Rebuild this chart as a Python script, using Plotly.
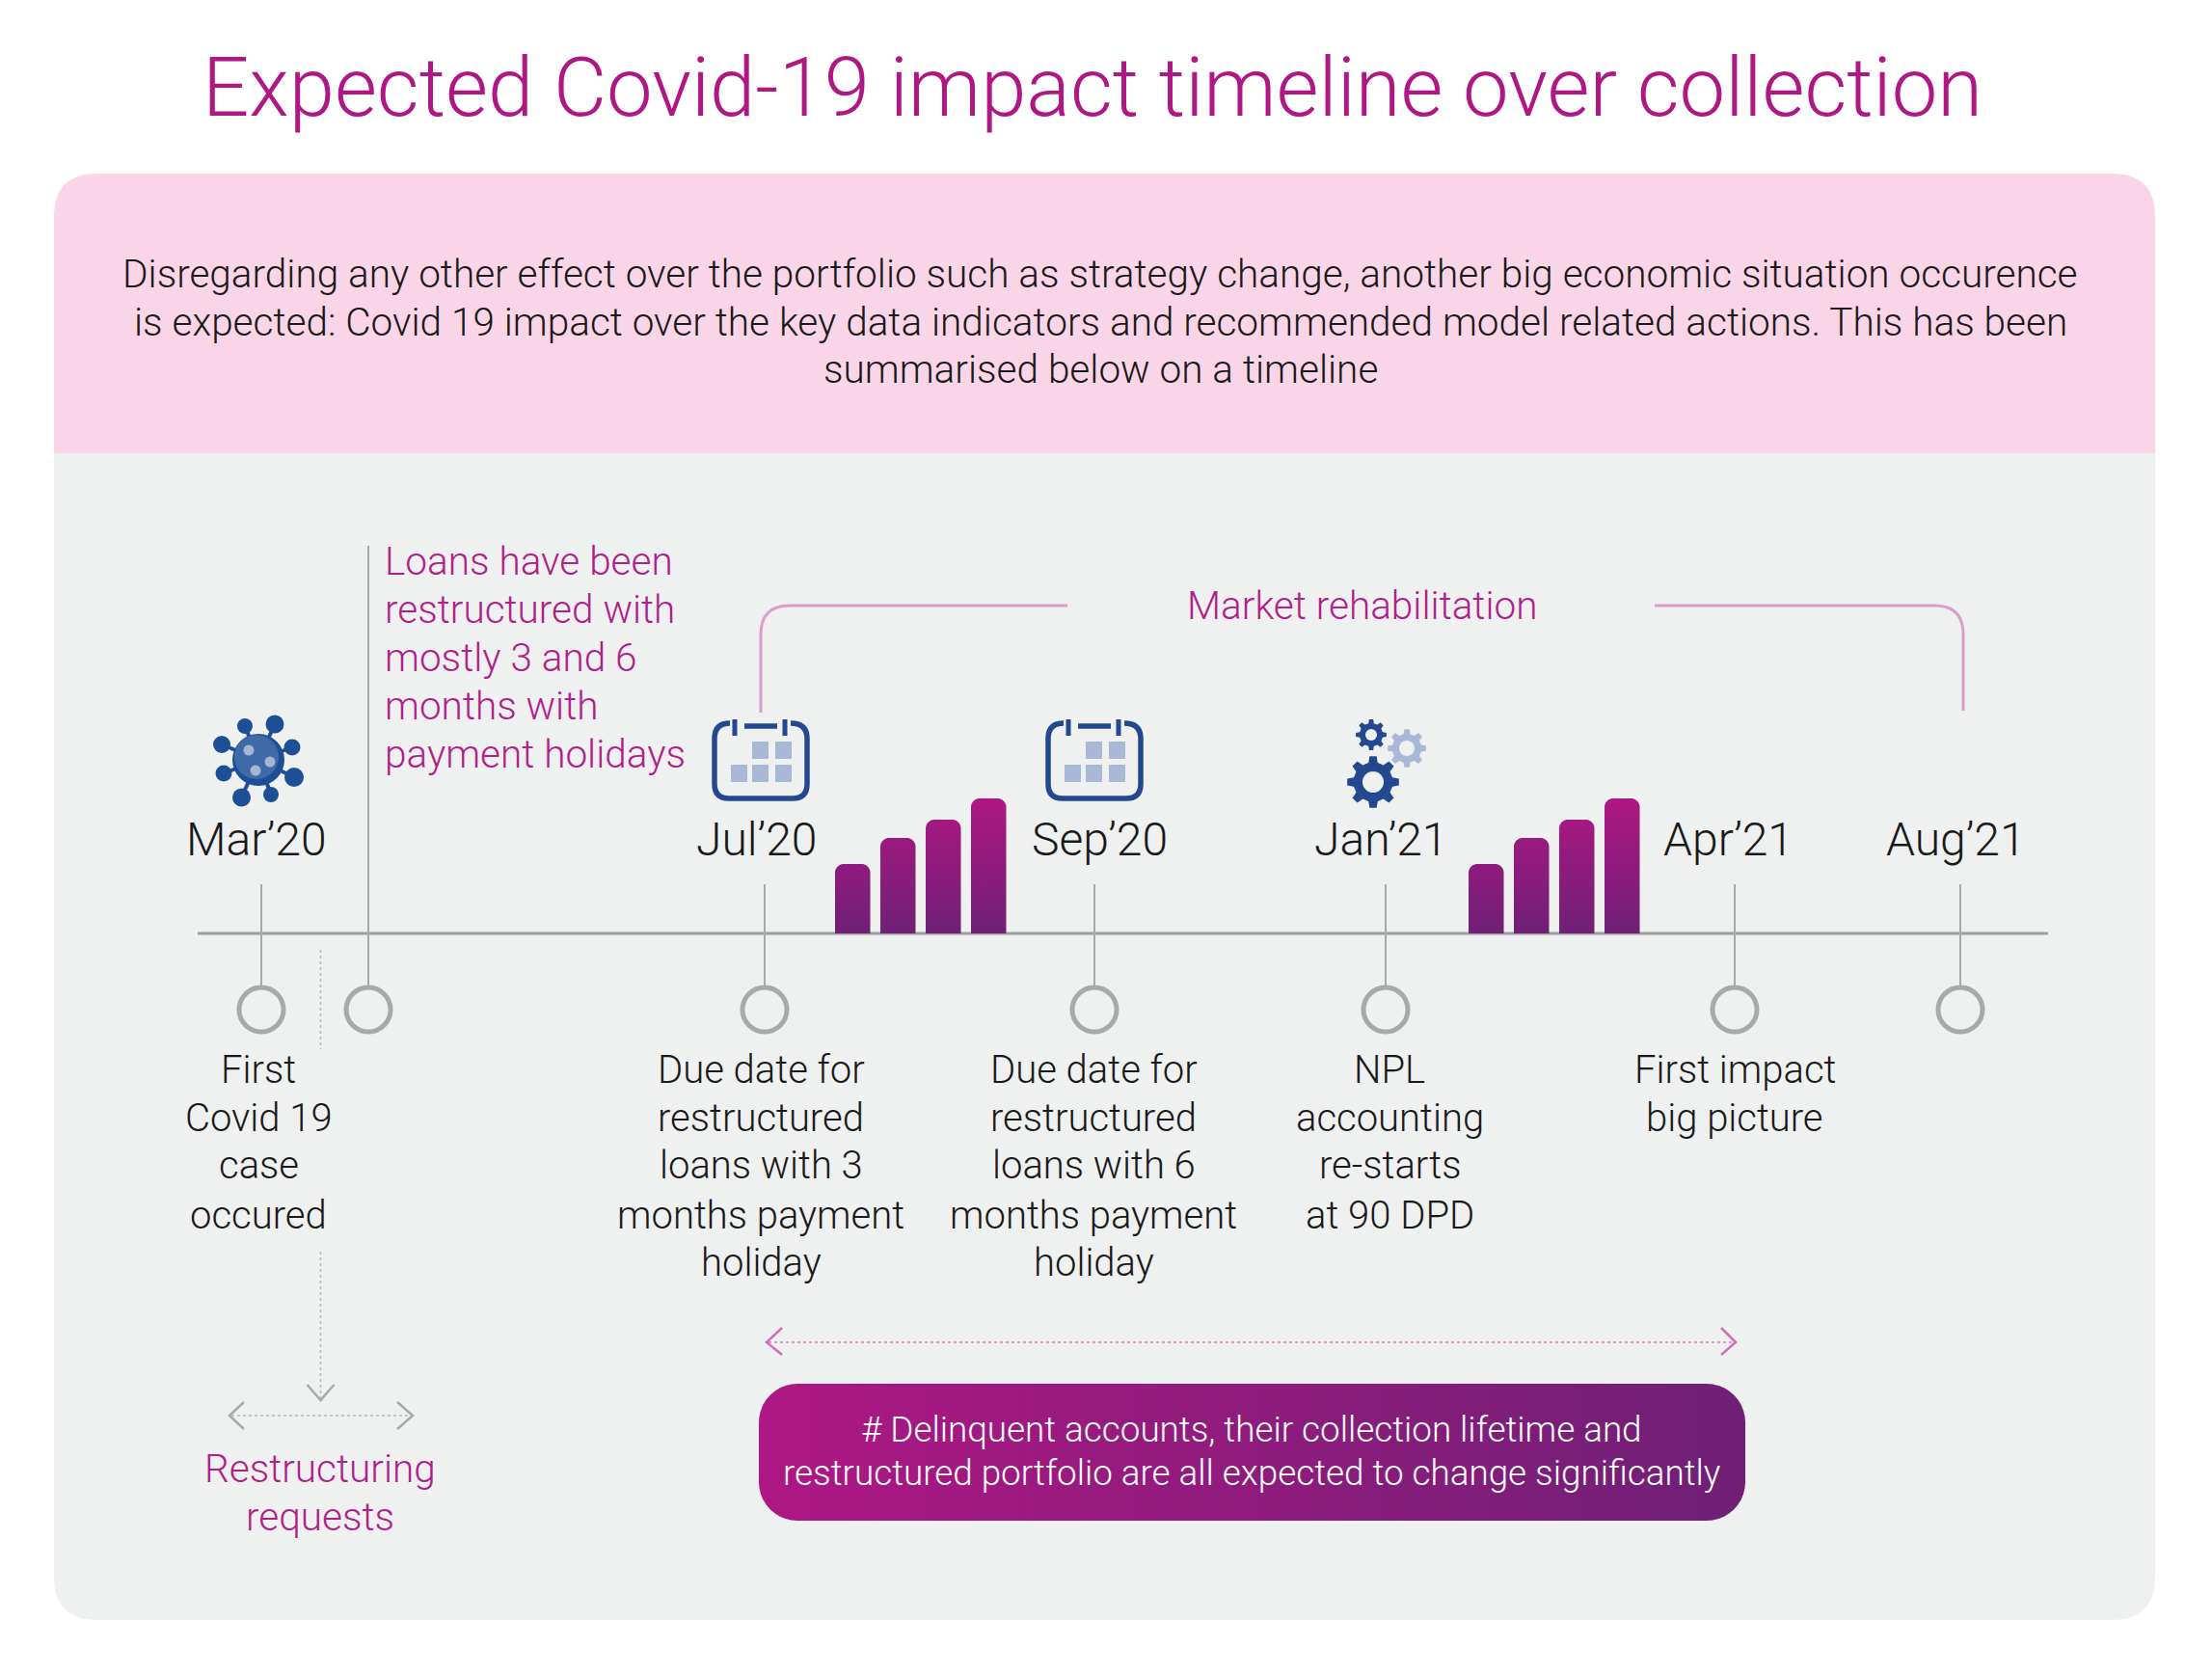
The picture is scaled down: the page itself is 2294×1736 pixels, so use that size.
import math
import plotly.graph_objects as go

# chart text and values
title = "Expected Covid-19 impact timeline over collection"
intro_lines = [
    "Disregarding any other effect over the portfolio such as strategy change, another big economic situation occurence",
    "is expected: Covid 19 impact over the key data indicators and recommended model related actions. This has been",
    "summarised below on a timeline",
]
dates = ["Mar’20", "Jul’20", "Sep’20", "Jan’21", "Apr’21", "Aug’21"]
captions = [
    ["First", "Covid 19", "case", "occured"],
    ["Due date for", "restructured", "loans with 3", "months payment", "holiday"],
    ["Due date for", "restructured", "loans with 6", "months payment", "holiday"],
    ["NPL", "accounting", "re-starts", "at 90 DPD"],
    ["First impact", "big picture"],
    [],
]
restructured_lines = ["Loans have been", "restructured with", "mostly 3 and 6", "months with", "payment holidays"]
rehab_label = "Market rehabilitation"
requests_lines = ["Restructuring", "requests"]
box_lines = [
    "# Delinquent accounts, their collection lifetime and",
    "restructured portfolio are all expected to change significantly",
]
bar_values = [72, 99, 118, 140]

# page placement
stem_x = [271, 793, 1135, 1437, 1799, 2033]
date_x = [266, 784, 1140, 1432, 1792, 2028]
caption_x = [268, 789, 1134, 1441, 1799, 2033]
caption_y = [1109, 1159, 1208, 1260, 1309]
loan_x = 382
base_y = 968
bar_groups = [866, 1523]

MAGENTA = "#AE1784"
PURPLE = "#6F2076"
LABEL = "#B01F8A"
GREY = "#A7A9AC"
NAVY = "#23488F"
PALE = "#A9B8D6"
FONT = "Roboto"

fig = go.Figure()
shapes = []
notes = []


def put_text(x, y, text, size, color="#1A1A1A", anchor="center"):
    notes.append(dict(x=x, y=y, text=text, showarrow=False, xanchor=anchor, yanchor="middle",
                      font=dict(family=FONT, size=size, color=color, weight=300)))


def add_line(x0, y0, x1, y1, color=GREY, width=2, dash="solid"):
    shapes.append(dict(type="line", x0=x0, y0=y0, x1=x1, y1=y1, layer="below",
                       line=dict(color=color, width=width, dash=dash)))


def add_path(path, fill=None, color=None, width=0):
    shapes.append(dict(type="path", path=path, layer="below", fillcolor=fill or "rgba(0,0,0,0)",
                       line=dict(color=color or "rgba(0,0,0,0)", width=width)))


def add_circle(x, y, r, fill=None, color=None, width=0):
    shapes.append(dict(type="circle", x0=x - r, x1=x + r, y0=y - r, y1=y + r, layer="below",
                       fillcolor=fill or "rgba(0,0,0,0)",
                       line=dict(color=color or "rgba(0,0,0,0)", width=width)))


def add_chevron(x0, y0, xa, ya, x1, y1, color):
    add_path(f"M{x0},{y0} L{xa},{ya} L{x1},{y1}", color=color, width=2.5)


def corner(cx, cy, r, a0, a1, n=10):
    pts = []
    for i in range(n + 1):
        a = math.radians(a0 + (a1 - a0) * i / n)
        pts.append((cx + r * math.cos(a), cy + r * math.sin(a)))
    return pts


def rounded(x0, y0, x1, y1, r, r_low=None):
    r_low = r if r_low is None else r_low
    pts = corner(x0 + r, y0 + r, r, 180, 270) + corner(x1 - r, y0 + r, r, 270, 360)
    if r_low:
        pts += corner(x1 - r_low, y1 - r_low, r_low, 0, 90) + corner(x0 + r_low, y1 - r_low, r_low, 90, 180)
    else:
        pts += [(x1, y1), (x0, y1)]
    pts.append(pts[0])
    return [p[0] for p in pts], [p[1] for p in pts]


def calendar(dx):
    add_path(f"M{757 + dx},750 Q{741 + dx},750 {741 + dx},766 L{741 + dx},813 Q{741 + dx},828 {756 + dx},828 "
             f"L{822 + dx},828 Q{837 + dx},828 {837 + dx},813 L{837 + dx},766 Q{837 + dx},750 {820 + dx},750",
             color=NAVY, width=5.5)
    add_line(762 + dx, 746, 762 + dx, 763, NAVY, 5)
    add_line(814 + dx, 746, 814 + dx, 763, NAVY, 5)
    add_line(772 + dx, 753, 806 + dx, 753, NAVY, 5.5)
    for sx, sy in [(780, 769), (804, 769), (758, 793), (780, 793), (804, 793)]:
        shapes.append(dict(type="rect", x0=sx + dx, x1=sx + dx + 17, y0=sy, y1=sy + 18, layer="below",
                           fillcolor=PALE, line_width=0))


def gear(cx, cy, r, hole, color, teeth=8):
    root = r * 0.76
    pts = []
    step = 360 / teeth
    for i in range(teeth):
        a = i * step - 90
        for off, rad in [(-0.30, root), (-0.17, r), (0.17, r), (0.30, root)]:
            t = math.radians(a + off * step)
            pts.append((cx + rad * math.cos(t), cy + rad * math.sin(t)))
    add_path("M" + " L".join(f"{x:.1f},{y:.1f}" for x, y in pts) + " Z", fill=color)
    add_circle(cx, cy, hole, fill="#EFF0F0")


def virus(cx, cy):
    balls = [(254, 753, 8), (285, 751, 9.5), (230, 772, 9), (303, 775, 8.5),
             (232, 802, 8.5), (305, 806, 10), (250.5, 827, 9.5), (281, 824, 8)]
    for bx, by, br in balls:
        add_line(cx, cy, bx, by, "#1D4F97", 4)
        add_circle(bx, by, br, fill="#1D4F97")
    add_circle(cx, cy, 27, fill="#1D4F97")
    add_circle(cx - 2, cy - 3, 23, fill="#4069A8")
    for sx, sy in [(258, 778), (280, 790), (265, 799)]:
        add_circle(sx, sy, 5.5, fill="#A5B6D3")


# panels
add_path("M56,470 L56,225 Q56,180 101,180 L2190,180 Q2235,180 2235,225 L2235,470 Z", fill="#FAD5E7")
add_path("M56,470 L2235,470 L2235,1635 Q2235,1680 2190,1680 L101,1680 Q56,1680 56,1635 Z", fill="#EFF0F0")

# timeline, stems and rings
add_line(205, base_y, 2124, base_y, "#9D9FA2", 3)
for x in stem_x:
    add_line(x, 917, x, 1024)
    add_circle(x, 1047, 23, color=GREY, width=5)
add_line(loan_x, 566, loan_x, 1024)
add_circle(loan_x, 1047, 23, color=GREY, width=5)

# icons
virus(268, 788)
calendar(0)
calendar(346)
gear(1422, 762, 16, 6, NAVY)
gear(1459, 776, 20, 8, PALE)
gear(1424, 811, 27, 11, NAVY)

# market rehabilitation bracket
BRACKET = "#DE9CCB"
add_path("M789,739 L789,658 Q789,628 819,628 L1107,628", color=BRACKET, width=3)
add_path("M1716,628 L2006,628 Q2036,628 2036,658 L2036,737", color=BRACKET, width=3)

# dotted guides
add_line(332.5, 985, 332.5, 1088, "#B5B7B9", 1.5, "dot")
add_line(332.5, 1298, 332.5, 1450, "#B5B7B9", 1.5, "dot")
add_chevron(318.5, 1436, 332.5, 1452, 346.5, 1436, GREY)
add_line(240, 1468, 426, 1468, "#B5B7B9", 1.5, "dot")
add_chevron(253, 1454, 238, 1468, 253, 1482, GREY)
add_chevron(412, 1454, 428, 1468, 412, 1482, GREY)
add_line(797, 1392, 1798, 1392, "#D77FBE", 1.5, "dot")
add_chevron(811, 1377, 795, 1392, 811, 1405, "#D070B5")
add_chevron(1785, 1377, 1800, 1392, 1785, 1405, "#D070B5")

# stepped bars, one gradient over both groups' height
for left in bar_groups:
    xs, ys = [], []
    for i, v in enumerate(bar_values):
        bx, by = rounded(left + i * 47, base_y - v, left + i * 47 + 36.5, base_y, 9, 0)
        xs += bx + [None]
        ys += by + [None]
    fig.add_trace(go.Scatter(x=xs, y=ys, mode="none", fill="toself", hoverinfo="skip",
                             fillgradient=dict(type="vertical", colorscale=[[0, PURPLE], [1, MAGENTA]])))

# callout box
bx, by = rounded(787, 1435, 1810, 1577, 40)
fig.add_trace(go.Scatter(x=bx, y=by, mode="none", fill="toself", hoverinfo="skip",
                         fillgradient=dict(type="horizontal", colorscale=[[0, MAGENTA], [1, PURPLE]])))

# texts
put_text(1133, 91, title, 85, "#AE1784")
for y, line in zip([284, 333.5, 383], intro_lines):
    put_text(1141, y, line, 40.5)
for x, d in zip(date_x, dates):
    put_text(x, 870, d, 48)
for x, lines in zip(caption_x, captions):
    for y, line in zip(caption_y, lines):
        put_text(x, y, line, 40)
for y, line in zip([582, 632, 682, 732, 782], restructured_lines):
    put_text(397, y, line, 40.5, LABEL, "left")
put_text(1412, 628, rehab_label, 40.5, LABEL)
for y, line in zip([1523, 1573], requests_lines):
    put_text(332, y, line, 40.5, LABEL)
for y, line in zip([1482, 1527], box_lines):
    put_text(1298, y, line, 36.8, "#FFFFFF")

fig.update_layout(
    width=2294, height=1736, showlegend=False,
    margin=dict(l=0, r=0, t=0, b=0),
    paper_bgcolor="white", plot_bgcolor="white",
    xaxis=dict(range=[0, 2294], visible=False, fixedrange=True),
    yaxis=dict(range=[1736, 0], visible=False, fixedrange=True),
    shapes=shapes, annotations=notes,
)

fig.write_html("out.html", config=dict(displayModeBar=False), post_script="document.body.style.margin='0';")
